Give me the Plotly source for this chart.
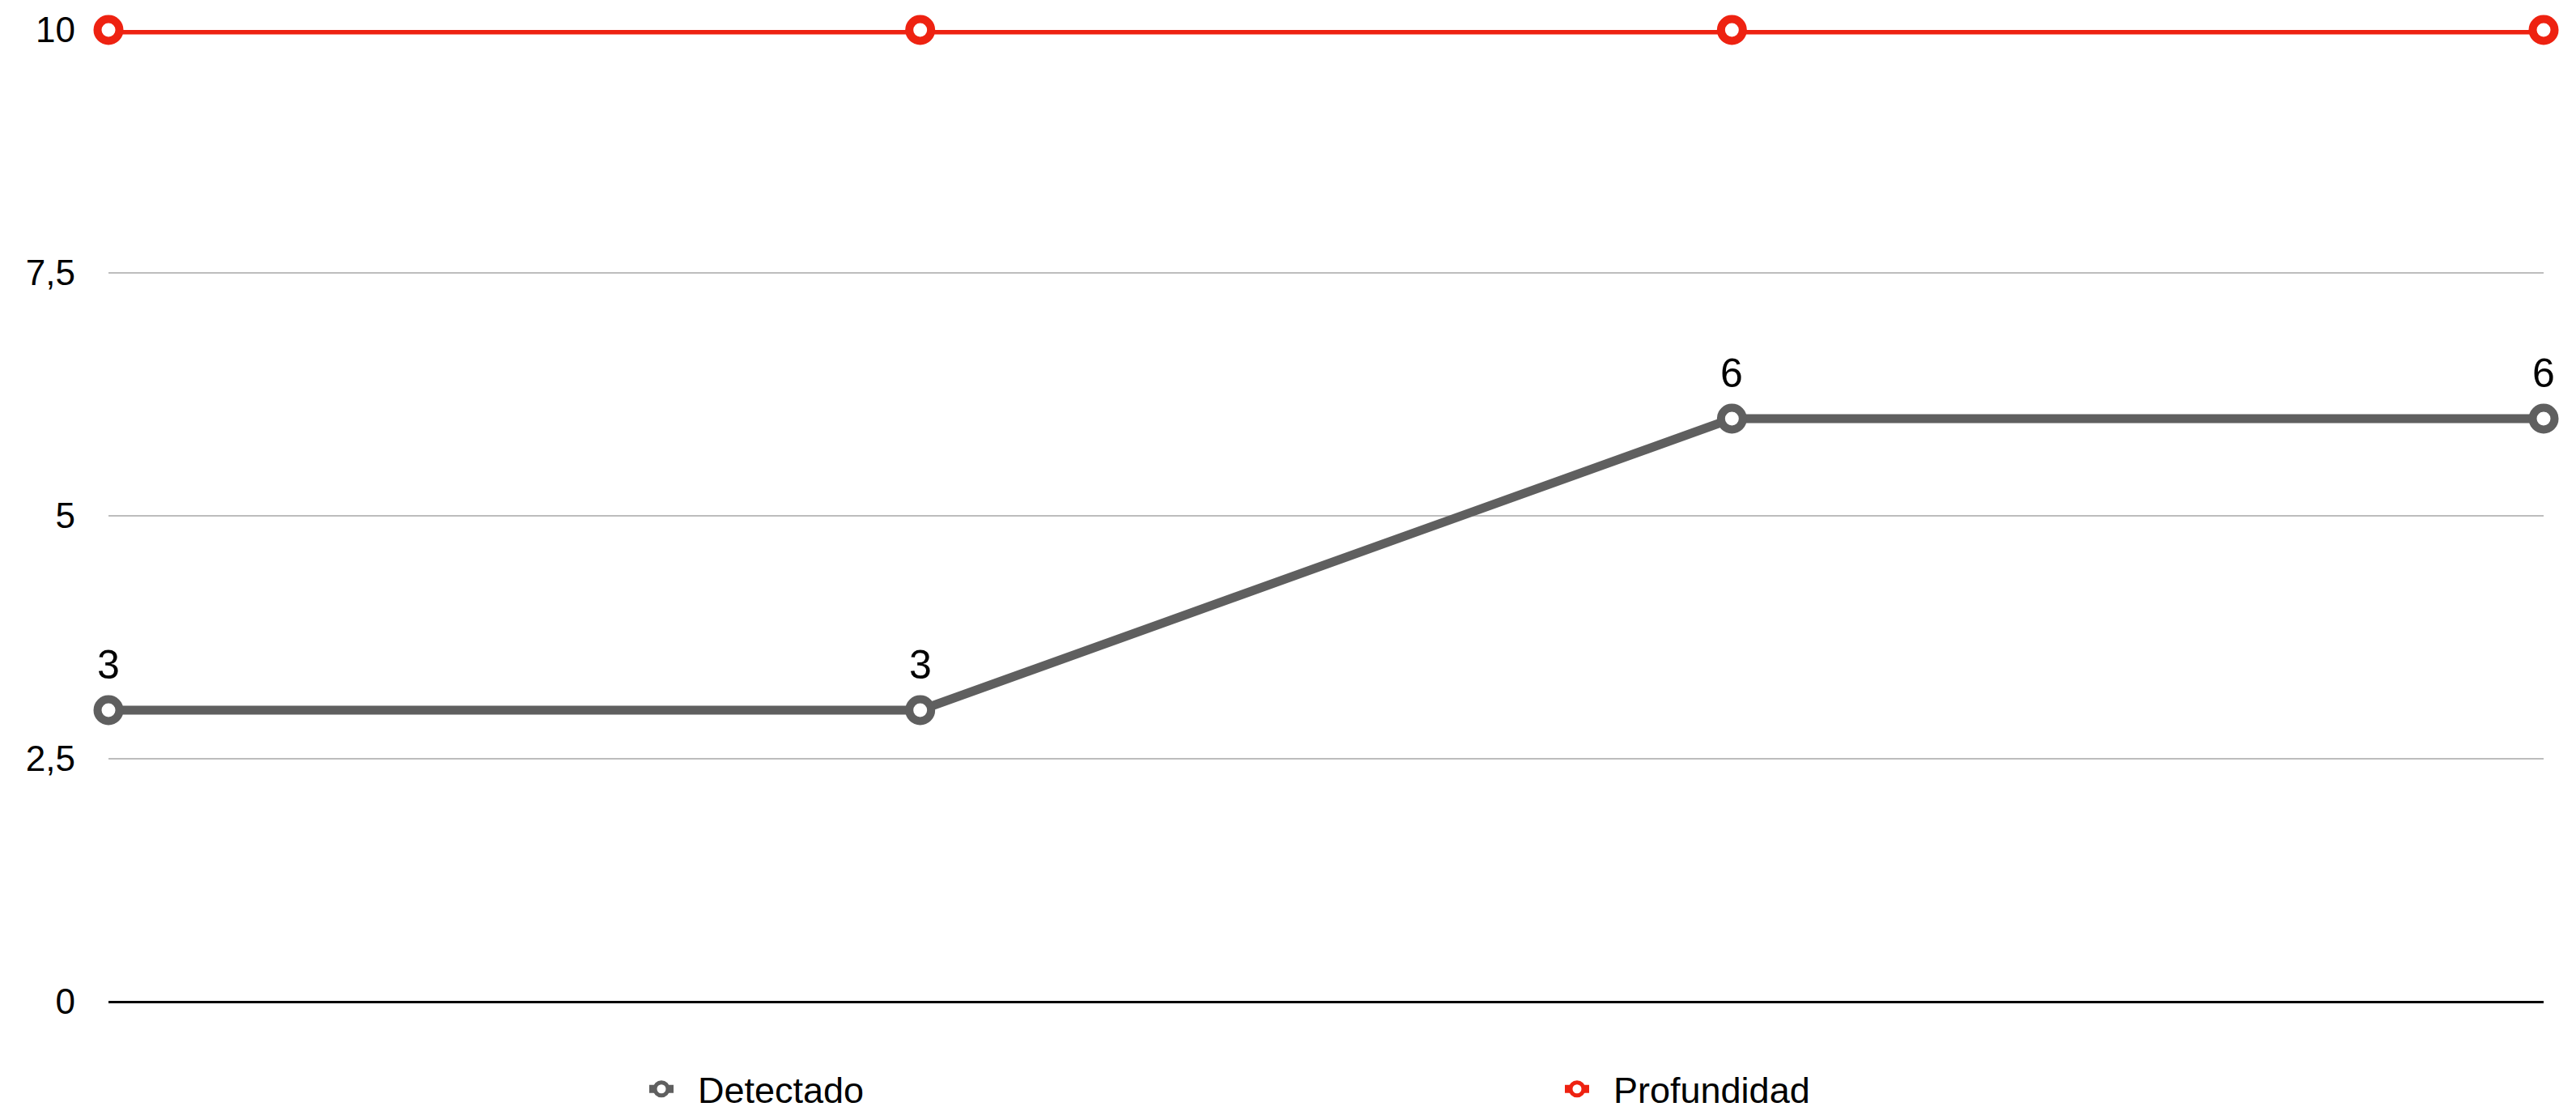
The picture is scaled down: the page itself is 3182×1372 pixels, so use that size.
import plotly.graph_objects as go

categories = ["1", "2", "3", "4"]
detectado = [3, 3, 6, 6]
profundidad = [10, 10, 10, 10]
ytick_vals = [0, 2.5, 5, 7.5, 10]
ytick_text = ["0", "2,5", "5", "7,5", "10"]

FONT = "Liberation Sans, Arial, Helvetica, sans-serif"
GRAY = "#5f5f5f"
RED = "#ee2211"
PAD = "\u00a0\u00a0"

fig = go.Figure()
fig.add_trace(go.Scatter(
    x=categories, y=detectado, name=PAD + "Detectado",
    mode="lines+markers",
    line=dict(color=GRAY, width=11),
    marker=dict(symbol="circle", size=27, color="#ffffff", line=dict(color=GRAY, width=10)),
    cliponaxis=False,
))
fig.add_trace(go.Scatter(
    x=categories, y=profundidad, name=PAD + "Profundidad",
    mode="lines+markers",
    line=dict(color=RED, width=11),
    marker=dict(symbol="circle", size=27, color="#ffffff", line=dict(color=RED, width=10)),
    cliponaxis=False,
))

# data labels for the Detectado series (x given as category index)
for i, v in enumerate(detectado):
    fig.add_annotation(
        x=i, y=v, text=str(v), showarrow=False, yshift=56,
        xanchor="center", yanchor="middle",
        font=dict(size=50, family=FONT, color="#000000"),
    )

fig.update_layout(
    width=3182, height=1372,
    margin=dict(l=134, r=40, t=37, b=135, autoexpand=False),
    paper_bgcolor="#ffffff", plot_bgcolor="#ffffff",
    font=dict(family=FONT, size=44, color="#000000"),
    showlegend=True,
    legend=dict(
        orientation="h", x=(797 - 134) / 3008, xanchor="left", y=-0.06, yanchor="top",
        font=dict(size=45, family=FONT, color="#000000"),
        entrywidth=1086, entrywidthmode="pixels",
        itemwidth=30,
        itemsizing="trace",
    ),
    xaxis=dict(
        type="category", range=[0, 3], showticklabels=False, showgrid=False,
        zeroline=False, showline=False, ticks="",
    ),
    yaxis=dict(
        range=[0, 10], tickvals=ytick_vals, ticktext=ytick_text,
        showgrid=True, gridcolor="#bdbdbd", gridwidth=2,
        zeroline=True, zerolinecolor="#000000", zerolinewidth=3,
        showline=False, ticks="", ticklabelstandoff=40,
        tickfont=dict(size=44, family=FONT, color="#000000"),
    ),
)

fig.write_html(
    "out.html",
    config={"displayModeBar": False},
    post_script="document.body.style.margin='0';",
)
